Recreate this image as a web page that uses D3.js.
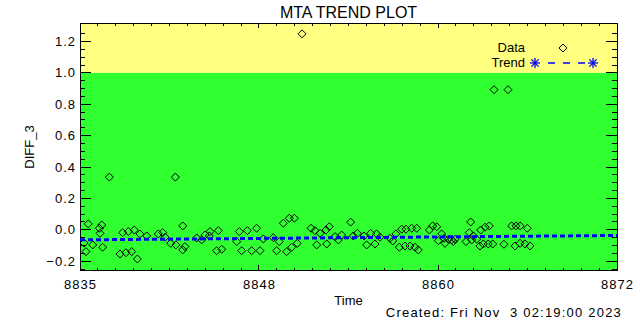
<!DOCTYPE html>
<html><head><meta charset="utf-8">
<script src="https://cdn.jsdelivr.net/npm/d3@7"></script>
<style>
html,body{margin:0;padding:0;background:#fff;}
svg text{font-family:"Liberation Sans","DejaVu Sans",sans-serif;fill:#000;}
</style></head>
<body><svg id="c" width="640" height="320"></svg>
<script>
// ---- data ----
const times = [8837.02,8841.57,8835.57,8835.41,8835.28,8836.33,8836.38,8836.50,8835.88,8836.56,
8837.76,8838.17,8838.56,8838.95,8837.94,8838.33,8838.74,8839.13,8839.60,8840.39,
8840.70,8840.86,8841.25,8841.61,8842.08,8842.08,8842.23,8843.04,8843.39,8843.61,
8843.91,8844.42,8844.77,8843.96,8844.53,8845.98,8845.80,8846.14,8846.53,8847.17,
8846.83,8847.40,8847.63,8848.32,8848.55,8848.73,8849.01,8849.42,8849.77,8849.24,
8849.59,8849.97,8850.30,8850.92,8851.19,8851.54,8851.95,8852.18,8851.31,8852.00,
8852.57,8852.80,8853.03,8853.65,8853.83,8854.11,8854.57,8855.03,8855.44,8854.75,
8855.33,8855.67,8856.36,8856.55,8856.77,8857.17,8857.46,8857.86,8858.20,8857.00,
8857.39,8857.74,8858.08,8858.31,8859.07,8859.30,8859.58,8859.92,8860.08,8860.38,
8860.61,8860.84,8859.69,8860.15,8860.72,8861.92,8861.82,8862.10,8862.33,8861.60,
8861.99,8862.61,8862.91,8863.20,8862.56,8862.79,8863.13,8863.44,8864.21,8864.74,
8865.04,8865.32,8865.82,8864.97,8865.32,8865.66,8866.01,8863.53,8864.49];
const values = [0.336,0.336,0.038,-0.139,-0.084,0.010,-0.022,0.031,-0.096,-0.111,
-0.154,-0.146,-0.139,-0.186,-0.018,-0.011,-0.001,-0.026,-0.039,-0.026,
-0.018,-0.047,-0.086,-0.096,0.025,-0.128,-0.107,-0.052,-0.064,-0.033,
-0.039,-0.133,-0.124,-0.011,-0.005,-0.011,-0.075,-0.133,-0.005,0.010,
-0.133,-0.133,-0.058,-0.050,-0.133,-0.075,0.042,0.074,0.074,-0.139,
-0.111,-0.086,1.249,0.010,-0.005,-0.022,-0.001,0.020,-0.096,-0.090,
-0.043,-0.064,-0.033,0.049,-0.039,-0.022,-0.039,-0.022,-0.026,-0.096,
-0.090,-0.047,-0.054,-0.071,-0.026,0.004,0.004,0.010,0.010,-0.111,
-0.103,-0.103,-0.111,-0.128,-0.001,0.025,0.020,-0.026,-0.054,-0.060,
-0.064,-0.060,-0.069,-0.086,-0.075,0.050,-0.018,-0.039,-0.060,-0.075,
-0.064,-0.001,0.017,0.025,-0.103,-0.090,-0.090,-0.090,-0.092,0.025,
0.025,0.025,0.010,-0.103,-0.086,-0.090,-0.103,0.893,0.893];
const trendTimes = [8835, 8872];
const trendValues = [-0.064, -0.036];
const xTickValues = [8835, 8847.3333, 8859.6667, 8872];
const xTickLabels = ["8835", "8848", "8860", "8872"];
const yTickValues = [-0.2, 0.0, 0.2, 0.4, 0.6, 0.8, 1.0, 1.2];
const yTickLabels = ["\u22120.2", "0.0", "0.2", "0.4", "0.6", "0.8", "1.0", "1.2"];
const limitValue = 1.0;
const titleText = "MTA TREND PLOT";
const xTitle = "Time";
const yTitle = "DIFF_3";
const createdText = "Created: Fri Nov  3 02:19:00 2023";

// ---- layout ----
const L = 80, R = 617, T = 23, B = 270;
const svg = d3.select("#c");
const x = d3.scaleLinear().domain([8835, 8872]).range([L, R]);
const y = d3.scaleLinear().domain([-0.256, 1.318]).range([B, T]);

// background bands
svg.append("rect").attr("x", L).attr("y", T).attr("width", R - L).attr("height", y(limitValue) - T).attr("fill", "#ffff80");
svg.append("rect").attr("x", L).attr("y", y(limitValue)).attr("width", R - L).attr("height", B - y(limitValue)).attr("fill", "#30ff30");

// ticks
const g = svg.append("g").attr("stroke", "#000").attr("stroke-width", 1).attr("shape-rendering", "crispEdges");
const xMinor = [];
for (let i = 0; i < xTickValues.length - 1; i++) {
  const a = xTickValues[i], b = xTickValues[i + 1];
  for (let k = 1; k < 10; k++) xMinor.push(a + (b - a) * k / 10);
}
const yMinor = d3.range(-0.25, 1.3, 0.05).filter(v => Math.abs(Math.round(v * 20) % 4) !== 0);
const xl = 5, yl = 10.7;
xTickValues.forEach(v => {
  g.append("line").attr("x1", x(v)).attr("x2", x(v)).attr("y1", B).attr("y2", B - xl);
  g.append("line").attr("x1", x(v)).attr("x2", x(v)).attr("y1", T).attr("y2", T + xl);
});
xMinor.forEach(v => {
  g.append("line").attr("x1", x(v)).attr("x2", x(v)).attr("y1", B).attr("y2", B - xl / 2);
  g.append("line").attr("x1", x(v)).attr("x2", x(v)).attr("y1", T).attr("y2", T + xl / 2);
});
yTickValues.forEach(v => {
  g.append("line").attr("y1", y(v)).attr("y2", y(v)).attr("x1", L).attr("x2", L + yl);
  g.append("line").attr("y1", y(v)).attr("y2", y(v)).attr("x1", R).attr("x2", R - yl);
});
yMinor.forEach(v => {
  g.append("line").attr("y1", y(v)).attr("y2", y(v)).attr("x1", L).attr("x2", L + yl / 2);
  g.append("line").attr("y1", y(v)).attr("y2", y(v)).attr("x1", R).attr("x2", R - yl / 2);
});
g.append("rect").attr("x", L).attr("y", T).attr("width", R - L).attr("height", B - T).attr("fill", "none");

// tick labels
xTickValues.forEach((v, i) => {
  svg.append("text").attr("x", x(v) + 0.5).attr("y", 289).attr("text-anchor", "middle").attr("font-size", 13)
    .attr("letter-spacing", 1).text(xTickLabels[i]);
});
yTickValues.forEach((v, i) => {
  svg.append("text").attr("x", 76).attr("y", y(v) + 4.5).attr("text-anchor", "end").attr("font-size", 13)
    .attr("letter-spacing", 1).text(yTickLabels[i]);
});

// data diamonds
const diamond = "M0,-4L4,0L0,4L-4,0Z";
svg.append("g").selectAll("path").data(times).join("path")
  .attr("d", diamond)
  .attr("transform", (d, i) => `translate(${x(d)},${y(values[i])})`)
  .attr("fill", "none").attr("stroke", "#000").attr("stroke-width", 1);

// trend
const line = d3.line().x(d => x(d[0])).y(d => y(d[1]));
svg.append("path").attr("d", line(trendTimes.map((t, i) => [t, trendValues[i]])))
  .attr("fill", "none").attr("stroke", "#0000ff").attr("stroke-width", 3).attr("stroke-dasharray", "5,3");

// legend
function star(cx, cy) {
  const s = 5, gg = svg.append("g").attr("stroke", "#0000ff").attr("stroke-width", 1.3);
  [[s, 0], [0, s], [s * 0.72, s * 0.72], [s * 0.72, -s * 0.72]].forEach(([dx, dy]) =>
    gg.append("line").attr("x1", cx - dx).attr("y1", cy - dy).attr("x2", cx + dx).attr("y2", cy + dy));
}
svg.append("text").attr("x", 525).attr("y", 52).attr("text-anchor", "end").attr("font-size", 13).text("Data");
svg.append("path").attr("d", diamond).attr("transform", "translate(563,48)").attr("fill", "none").attr("stroke", "#000");
svg.append("text").attr("x", 525).attr("y", 67).attr("text-anchor", "end").attr("font-size", 13).text("Trend");
svg.append("line").attr("x1", 548).attr("x2", 585).attr("y1", 63).attr("y2", 63).attr("stroke", "#0000ff").attr("stroke-width", 1.5).attr("stroke-dasharray", "7,8");
star(535, 63); star(593, 63);

// titles
svg.append("text").attr("x", (L + R) / 2).attr("y", 18).attr("text-anchor", "middle").attr("font-size", 16).text(titleText);
svg.append("text").attr("x", (L + R) / 2).attr("y", 305).attr("text-anchor", "middle").attr("font-size", 13).text(xTitle);
svg.append("text").attr("transform", "translate(34,147) rotate(-90)").attr("text-anchor", "middle").attr("font-size", 13).text(yTitle);
svg.append("text").attr("x", 622).attr("y", 317).attr("text-anchor", "end").attr("font-size", 13)
  .attr("letter-spacing", 1.2).style("white-space", "pre").text(createdText);
</script></body></html>
